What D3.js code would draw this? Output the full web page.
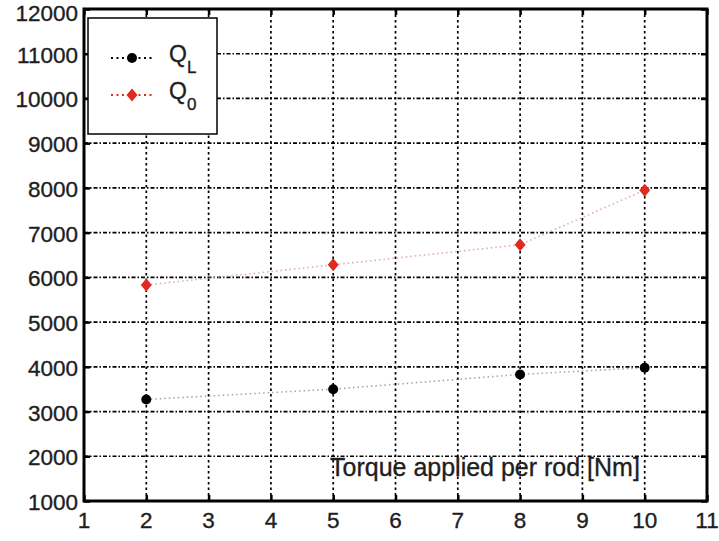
<!DOCTYPE html>
<html>
<head>
<meta charset="utf-8">
<script src="https://cdn.jsdelivr.net/npm/d3@7"></script>
<style>
  html, body { margin: 0; padding: 0; background: #fff; }
  svg { display: block; }
  text { font-family: "Liberation Sans", Arial, sans-serif; fill: #1e1e1e; stroke: #1e1e1e; stroke-width: 0.35; }
</style>
</head>
<body>
<svg id="chart" width="719" height="541"></svg>
<script>
// Torque applied per rod [Nm]
const torque = [2, 5, 8, 10];
// Quality factors
const qL = [3270, 3500, 3830, 3980];
const q0 = [5830, 6280, 6730, 7950];

const xTicks = [1, 2, 3, 4, 5, 6, 7, 8, 9, 10, 11];
const yTicks = [1000, 2000, 3000, 4000, 5000, 6000, 7000, 8000, 9000, 10000, 11000, 12000];
const xLabel = "Torque applied per rod [Nm]";

const svg = d3.select("#chart");
const plotL = 84, plotR = 707, plotT = 9, plotB = 501;

const x = d3.scaleLinear().domain([1, 11]).range([plotL, plotR]);
const y = d3.scaleLinear().domain([1000, 12000]).range([plotB, plotT]);

// grid
const grid = svg.append("g");
grid.selectAll("line.v")
  .data(xTicks.slice(1, -1))
  .join("line")
  .attr("x1", d => x(d)).attr("x2", d => x(d))
  .attr("y1", plotB).attr("y2", plotT)
  .attr("stroke", "#000").attr("stroke-width", 1.7)
  .attr("stroke-dasharray", "2.5,3");
grid.selectAll("line.h")
  .data(yTicks.slice(1, -1))
  .join("line")
  .attr("x1", plotL).attr("x2", plotR)
  .attr("y1", d => y(d)).attr("y2", d => y(d))
  .attr("stroke", "#000").attr("stroke-width", 1.7)
  .attr("stroke-dasharray", "4,2,1.5,2");

// series lines
const line = d3.line().x((d, i) => x(torque[i])).y(d => y(d));
svg.append("path").datum(qL).attr("d", line)
  .attr("fill", "none").attr("stroke", "#8a8a8a").attr("stroke-width", 1.6)
  .attr("stroke-dasharray", "1.5,3").attr("opacity", 0.75);
svg.append("path").datum(q0).attr("d", line)
  .attr("fill", "none").attr("stroke", "#d49a9a").attr("stroke-width", 1.6)
  .attr("stroke-dasharray", "1.5,3").attr("opacity", 0.8);

// markers
const red = "#e02a1e";
const diamond = (cx, cy, w, h) => `M${cx},${cy - h}L${cx + w},${cy}L${cx},${cy + h}L${cx - w},${cy}Z`;
svg.selectAll("circle.ql")
  .data(qL).join("circle")
  .attr("cx", (d, i) => x(torque[i])).attr("cy", d => y(d))
  .attr("r", 5).attr("fill", "#000");
svg.selectAll("path.q0")
  .data(q0).join("path")
  .attr("d", (d, i) => diamond(x(torque[i]), y(d), 5.5, 6.5))
  .attr("fill", red);

// axes frame with inward ticks
const xAxisB = d3.axisBottom(x).tickValues(xTicks).tickSize(-6).tickFormat("");
const xAxisT = d3.axisTop(x).tickValues(xTicks).tickSize(-6).tickFormat("");
const yAxisL = d3.axisLeft(y).tickValues(yTicks).tickSize(-6).tickFormat("");
const yAxisR = d3.axisRight(y).tickValues(yTicks).tickSize(-6).tickFormat("");
[[xAxisB, `translate(0,${plotB})`], [xAxisT, `translate(0,${plotT})`],
 [yAxisL, `translate(${plotL},0)`], [yAxisR, `translate(${plotR},0)`]].forEach(([ax, tr]) => {
  const g = svg.append("g").attr("transform", tr).call(ax);
  g.select(".domain").remove();
  g.selectAll(".tick line").attr("stroke", "#000").attr("stroke-width", 2.5);
});
svg.append("rect")
  .attr("x", plotL).attr("y", plotT).attr("width", plotR - plotL).attr("height", plotB - plotT)
  .attr("fill", "none").attr("stroke", "#000").attr("stroke-width", 3);

// tick labels
const fs = 22.5;
svg.selectAll("text.xt")
  .data(xTicks).join("text")
  .attr("x", d => x(d)).attr("y", 528)
  .attr("text-anchor", "middle").attr("font-size", fs)
  .text(d => d);
svg.selectAll("text.yt")
  .data(yTicks).join("text")
  .attr("x", 78).attr("y", d => Math.max(y(d) + 9, Math.ceil(fs * 0.92)))
  .attr("text-anchor", "end").attr("font-size", fs)
  .text(d => d);

// axis title inside the plot
svg.append("text")
  .attr("x", 330).attr("y", 476)
  .attr("font-size", 25)
  .text(xLabel);

// legend
const lg = svg.append("g");
lg.append("rect")
  .attr("x", 88).attr("y", 18).attr("width", 129).attr("height", 116)
  .attr("fill", "#fff").attr("stroke", "#000").attr("stroke-width", 1.5);
const entries = [
  { name: "Q", sub: "L", color: "#000", row: 58, shape: "circle" },
  { name: "Q", sub: "0", color: red, row: 95, shape: "diamond" }
];
entries.forEach(e => {
  lg.append("line")
    .attr("x1", 111).attr("x2", 153).attr("y1", e.row).attr("y2", e.row)
    .attr("stroke", e.color).attr("stroke-width", 2.2)
    .attr("stroke-dasharray", "2,3.5");
  if (e.shape === "circle") {
    lg.append("circle").attr("cx", 132).attr("cy", e.row).attr("r", 5).attr("fill", e.color);
  } else {
    lg.append("path").attr("d", diamond(132, e.row, 5.5, 6.5)).attr("fill", e.color);
  }
  const t = lg.append("text").attr("x", 169).attr("y", e.row + 4).attr("font-size", 23);
  t.append("tspan").text(e.name);
  t.append("tspan").attr("dy", 11).attr("font-size", 17).text(e.sub);
});
</script>
</body>
</html>
